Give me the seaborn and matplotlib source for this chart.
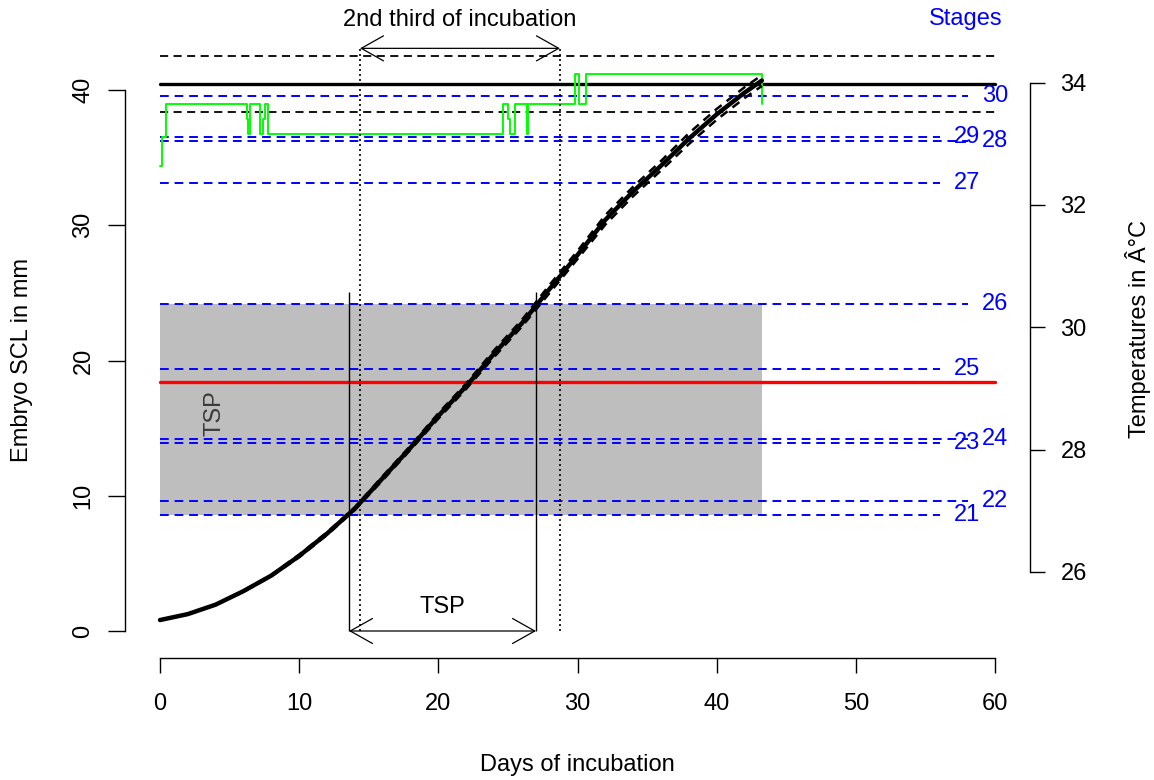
import matplotlib
matplotlib.use('Agg')
import matplotlib.pyplot as plt
import seaborn as sns
import pandas as pd

# ── Data ──────────────────────────────────────────────
growth_days = [0, 2, 4, 6, 8, 10, 12, 14, 16, 18, 20, 22, 24, 26, 28, 30, 32, 34, 36, 38, 40, 42, 43.25]
growth_scl = [0.81, 1.25, 1.95, 2.95, 4.1, 5.55, 7.2, 9.05, 11.3, 13.55, 15.9, 18.1, 20.5,
              22.75, 25.3, 27.8, 30.4, 32.5, 34.4, 36.4, 38.2, 39.8, 40.7]
growth_low = [0.81, 1.25, 1.95, 2.9, 4.05, 5.45, 7.1, 8.95, 11.15, 13.4, 15.7, 17.9, 20.25,
              22.5, 25.0, 27.5, 30.05, 32.15, 34.05, 36.0, 37.8, 39.4, 40.3]
growth_high = [0.81, 1.25, 1.95, 3.0, 4.15, 5.65, 7.3, 9.15, 11.45, 13.7, 16.1, 18.3, 20.75,
               23.0, 25.6, 28.1, 30.75, 32.85, 34.75, 36.8, 38.6, 40.2, 41.1]

temp_days = [0, 0.12, 0.43, 6.23, 6.32, 6.47, 7.19, 7.40, 7.54, 7.75, 24.67, 25.0,
             25.15, 25.5, 26.35, 26.47, 29.82, 30.12, 30.6, 43.25]
temp_vals = [32.64, 33.11, 33.65, 33.40, 33.16, 33.65, 33.16, 33.40, 33.65, 33.16, 33.65, 33.40,
             33.16, 33.65, 33.16, 33.65, 34.14, 33.65, 34.14, 33.65]

stages = [21, 22, 23, 24, 25, 26, 27, 28, 29, 30]
stage_scl = [8.6, 9.61, 13.92, 14.17, 19.35, 24.18, 33.1, 36.23, 36.5, 39.58]

hatch_scl = 40.44
hatch_sd = [38.37, 42.5]
tsp_temp = 29.11
tsp_days = [13.58, 27.02]
tsp_top = 25.1
third_days = [14.37, 28.74]
third_arrow = 43.08
incub_end = 43.25

# ── Style ─────────────────────────────────────────────
sns.set_style('ticks')
plt.rcParams['font.family'] = ['Liberation Sans', 'DejaVu Sans']
plt.rcParams['text.color'] = 'black'
FS = 17

fig = plt.figure(figsize=(11.54, 7.8), dpi=100)
ax = fig.add_axes([125/1154, 122/780, 905/1154, 648/780])
ax2 = ax.twinx()
ax.patch.set_visible(False)

# TSP grey band (stage 21 to stage 26)
ax.fill_between([0, incub_end], stage_scl[0], stage_scl[5], color='#BEBEBE', lw=0, zorder=1)

# stage lines
for st, s in zip(stages, stage_scl):
    even = st % 2 == 0
    ax.plot([0, 58.05 if even else 56.05], [s, s], color='blue', lw=1.4,
            linestyle=(0, (4.5, 3)), zorder=2)
    ax.text(60 if even else 58.0, s, str(st), color='blue', fontsize=FS,
            ha='center', va='center', zorder=5)
ax.text(57.9, 45.25, 'Stages', color='blue', fontsize=FS, ha='center', va='center', clip_on=False)

# hatchling size
ax.plot([0, 60], [hatch_scl, hatch_scl], color='black', lw=2.4, zorder=3)
for s in hatch_sd:
    ax.plot([0, 60], [s, s], color='black', lw=1.3, linestyle=(0, (4.5, 3)), zorder=3)

# temperatures (right axis)
ax.plot([0, 60], [tsp_temp, tsp_temp], color='red', lw=2.4, zorder=3, transform=ax2.transData)
sns.lineplot(x=temp_days, y=temp_vals, ax=ax, color='#00FF00', lw=1.4,
             drawstyle='steps-post', zorder=4, transform=ax2.transData)

# TSP and 2nd third markers
ax.vlines(tsp_days, 0, tsp_top, color='black', lw=1.0, zorder=4)
ax.vlines(third_days, 0, third_arrow, color='black', lw=1.2, linestyles=[(0, (1.2, 1.8))],
          zorder=4, clip_on=False)
arrow = dict(arrowstyle='<->,head_length=1.6,head_width=0.9', color='black', lw=0.9,
             shrinkA=0, shrinkB=0, mutation_scale=10)
ax.annotate('', xy=(tsp_days[0], 0), xytext=(tsp_days[1], 0), arrowprops=arrow, zorder=4)
ax.annotate('', xy=(third_days[0], third_arrow), xytext=(third_days[1], third_arrow),
            arrowprops=arrow, zorder=4, annotation_clip=False)
ax.text(sum(tsp_days)/2, 1.77, 'TSP', fontsize=FS, ha='center', va='center')
ax.text(sum(third_days)/2, 45.17, '2nd third of incubation', fontsize=FS,
        ha='center', va='center', clip_on=False)
ax.text(3.95, 16.1, 'TSP', fontsize=FS, rotation=90, color='#3a3a3a', ha='center', va='center')

# growth curve
sns.lineplot(x=growth_days, y=growth_scl, ax=ax, color='black', lw=3.2, zorder=6)
for band in (growth_low, growth_high):
    ax.plot(growth_days, band, color='black', lw=1.8, linestyle=(0, (3.5, 2.5)), zorder=6)

# ── Axes ──────────────────────────────────────────────
ax.set_xlim(-2.515, 62.515)
ax.set_ylim(-1.996, 45.915)
ax2.set_ylim(24.594, 35.188)
ax.set_xticks([0, 10, 20, 30, 40, 50, 60])
ax.set_yticks([0, 10, 20, 30, 40])
ax2.set_yticks([26, 28, 30, 32, 34])

for a in (ax, ax2):
    for sp in a.spines.values():
        sp.set_visible(False)
ax.spines['left'].set_visible(True)
ax.spines['left'].set_bounds(0, 40)
ax.spines['bottom'].set_visible(True)
ax.spines['bottom'].set_bounds(0, 60)
ax2.spines['right'].set_visible(True)
ax2.spines['right'].set_bounds(26, 34)
for sp in (ax.spines['left'], ax.spines['bottom'], ax2.spines['right']):
    sp.set_color('black')
    sp.set_linewidth(1.0)

ax.tick_params(axis='y', length=12, width=1, pad=10, labelsize=FS, colors='black',
               labelrotation=90)
for lab in ax.get_yticklabels():
    lab.set_va('center')
ax.tick_params(axis='x', length=11, width=1, pad=14, labelsize=FS, colors='black')
ax2.tick_params(axis='y', length=11, width=1, pad=11, labelsize=FS, colors='black')
ax.set_xlabel('')
ax.set_ylabel('')

fig.text(577/1154, 1 - 765/780, 'Days of incubation', fontsize=FS, ha='center', va='center')
fig.text(22/1154, 1 - 360/780, 'Embryo SCL in mm', fontsize=FS, rotation=90,
         ha='center', va='center')
fig.text(1138/1154, 1 - 329/780, 'Temperatures in Â°C', fontsize=FS, rotation=90,
         ha='center', va='center')

fig.savefig('out.png', dpi=100)
